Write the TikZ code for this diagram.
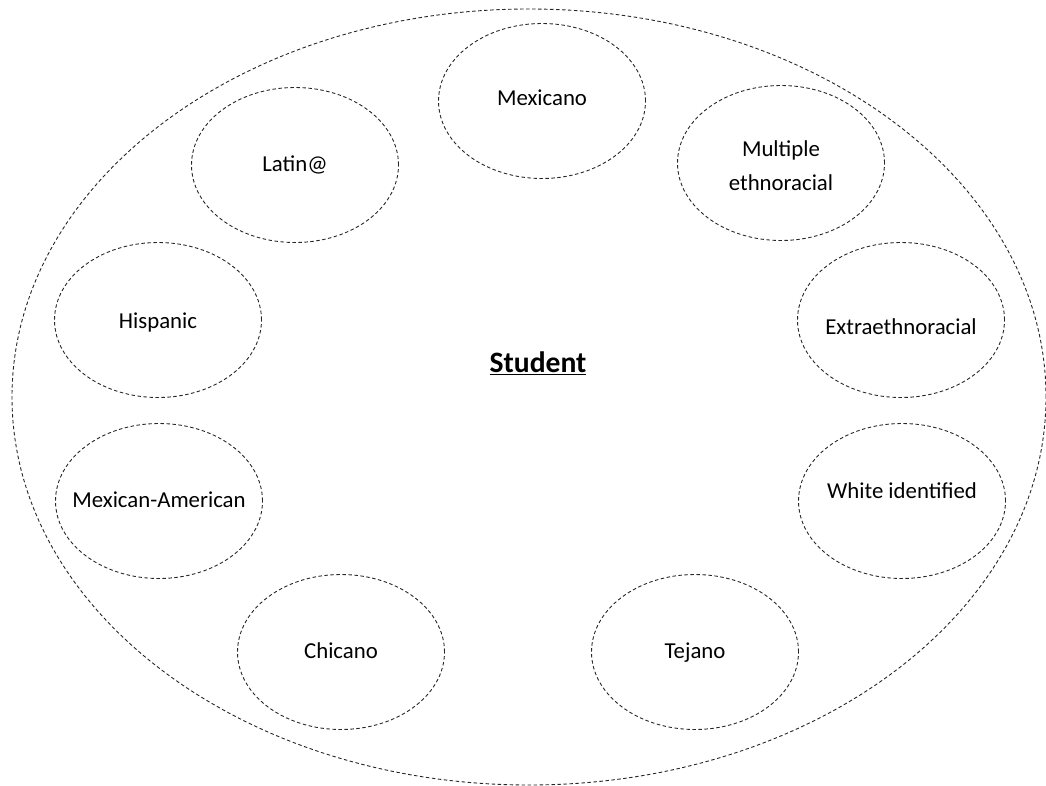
\documentclass[tikz,border=0pt]{standalone}
\usepackage{fontspec}
\setmainfont{Carlito}
\usetikzlibrary{shapes.geometric}
\tikzset{
  dashline/.style={draw=black!85, line width=0.9pt, dash pattern=on 3.5pt off 2.5pt},
  idbubble/.style={dashline, ellipse, inner sep=-40pt, minimum width=207pt, minimum height=155pt,
    align=center, font=\fontsize{22.8}{34}\selectfont, execute at begin node=\strut},
}
\begin{document}
\begin{tikzpicture}[x=1pt,y=1pt,yscale=-1]
\useasboundingbox (0,0) rectangle (1046,786);

%Shape: Ellipse (outer)
\node [dashline, ellipse, inner sep=0pt, minimum width=1034pt, minimum height=776pt] (outer) at (529,397) {};

% Text Node
\node [font=\bfseries\fontsize{29.6}{34}\selectfont] (student) at (538,363) {\underline{Student}};

%Shape: Ellipse
\node [idbubble] (mexicano) at (542,101) {\raisebox{2pt}{Mexicano}};
%Shape: Ellipse
\node [idbubble] (latin) at (295,165) {Latin@};
%Shape: Ellipse
\node [idbubble, execute at begin node={}] (multiple) at (781,163) {\rule{0pt}{32pt}Multiple\\ethnoracial};
%Shape: Ellipse
\node [idbubble] (hispanic) at (158,320) {\raisebox{-2pt}{Hispanic}};
%Shape: Ellipse
\node [idbubble] (extra) at (901,320) {\raisebox{-8pt}{Extraethnoracial}};
%Shape: Ellipse
\node [idbubble] (mexam) at (159,501) {Mexican-American};
%Shape: Ellipse
\node [idbubble] (white) at (902,501) {\raisebox{10pt}{White identified}};
%Shape: Ellipse
\node [idbubble] (chicano) at (341,652) {Chicano};
%Shape: Ellipse
\node [idbubble] (tejano) at (695,652) {Tejano};

\end{tikzpicture}
\end{document}
